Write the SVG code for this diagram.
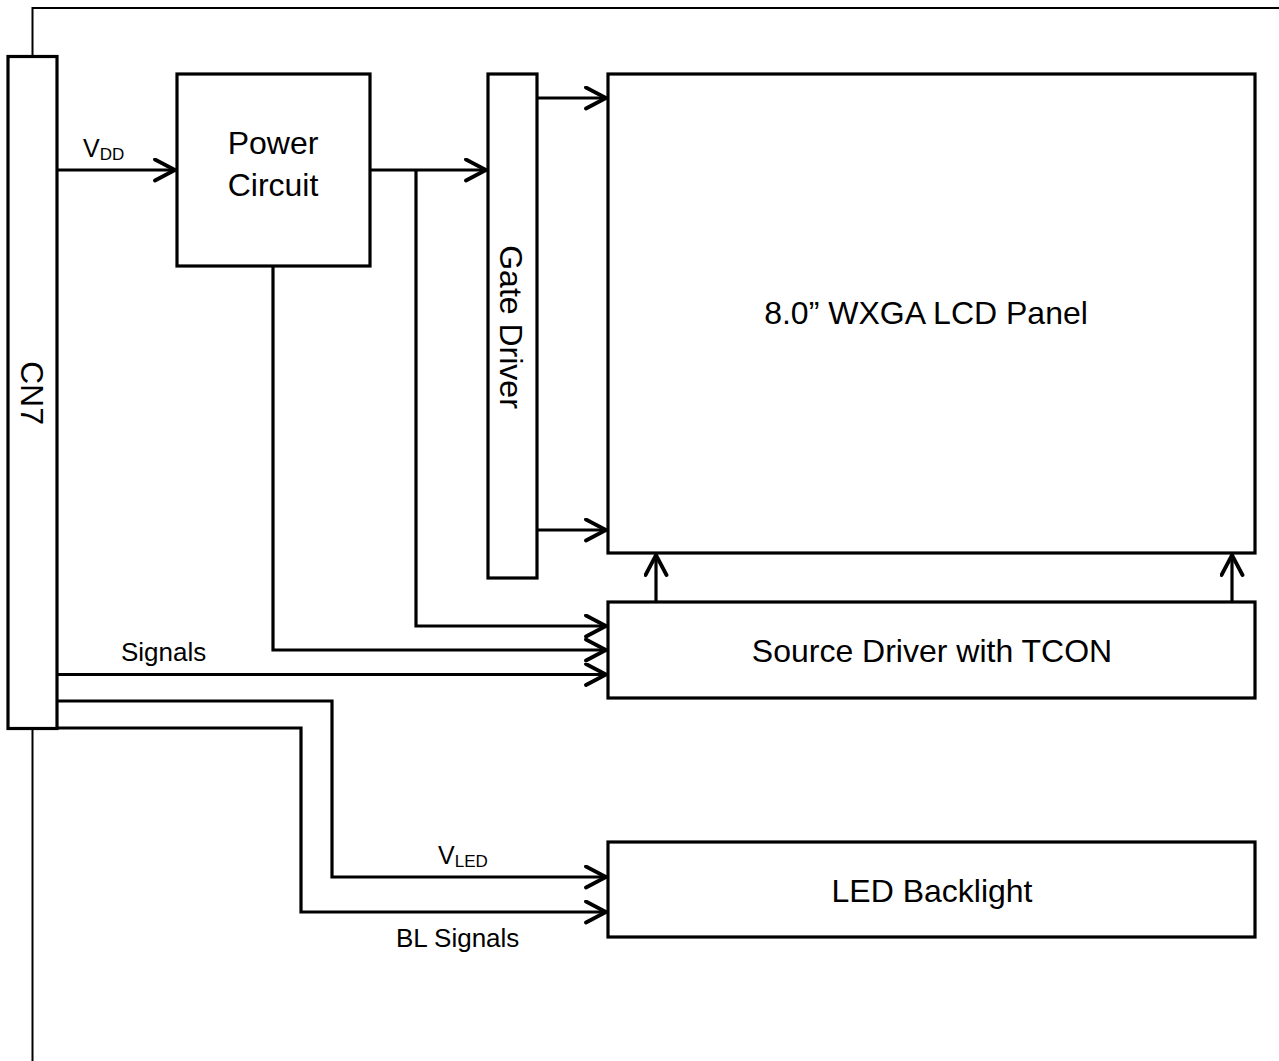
<svg xmlns="http://www.w3.org/2000/svg" width="1279" height="1061" viewBox="0 0 1279 1061">
<style>
.box{fill:#fff;stroke:#000;stroke-width:3.2}
.lbl{font-family:"Liberation Sans",Arial,Helvetica,sans-serif;fill:#000}
.big{font-size:32px;text-anchor:middle}
.sm{font-size:26px}
.sub{font-size:17px}
.wire{fill:none;stroke:#000;stroke-width:3.2;marker-end:url(#arr)}
.frame{fill:none;stroke:#000;stroke-width:2}
</style>
<defs>
<marker id="arr" markerUnits="userSpaceOnUse" markerWidth="30" markerHeight="30" refX="22" refY="12" orient="auto" viewBox="0 0 30 30">
<path d="M2,1.5 L22,12 L2,22.5" fill="none" stroke="#000" stroke-width="3.8" stroke-linecap="round"/>
</marker>
</defs>
<rect width="1279" height="1061" fill="#fff"/>
<g id="frame">
<path class="frame" d="M32.5,57 V8 H1285"/>
<path class="frame" d="M32.5,728 V1065"/>
</g>
<g id="connectors">
<path class="wire" d="M57,170 H175"/>
<path class="wire" d="M370,170 H486"/>
<path class="wire" d="M416,170 V626 H606"/>
<path class="wire" d="M273,266 V650 H606"/>
<path class="wire" d="M57,674.5 H606"/>
<path class="wire" d="M537,98 H606"/>
<path class="wire" d="M537,530 H606"/>
<path class="wire" d="M656,602 V555"/>
<path class="wire" d="M1232,602 V555"/>
<path class="wire" d="M57,701 H332 V877 H606"/>
<path class="wire" d="M57,728 H301 V912 H606"/>
</g>
<g id="cn7">
<rect class="box" x="8" y="56.5" width="49" height="672"/>
<text class="lbl big" transform="translate(32.5,393) rotate(90)" y="11.5">CN7</text>
</g>
<g id="power">
<rect class="box" x="177" y="74" width="193" height="192"/>
<text class="lbl big" x="273" y="154">Power</text>
<text class="lbl big" x="273" y="196">Circuit</text>
</g>
<g id="gate">
<rect class="box" x="488" y="74" width="49" height="504"/>
<text class="lbl big" transform="translate(511,327) rotate(90)" y="11.5">Gate Driver</text>
</g>
<g id="lcd">
<rect class="box" x="608" y="74" width="647" height="479"/>
<text class="lbl big" x="926" y="324">8.0” WXGA LCD Panel</text>
</g>
<g id="source">
<rect class="box" x="608" y="602" width="647" height="96"/>
<text class="lbl big" x="932" y="662">Source Driver with TCON</text>
</g>
<g id="backlight">
<rect class="box" x="608" y="842" width="647" height="95"/>
<text class="lbl big" x="932" y="901.5">LED Backlight</text>
</g>
<g id="labels">
<text class="lbl" x="83" y="157" font-size="25">V<tspan class="sub" dy="3">DD</tspan></text>
<text class="lbl sm" x="121" y="661">Signals</text>
<text class="lbl" x="438" y="864" font-size="25">V<tspan class="sub" dy="3">LED</tspan></text>
<text class="lbl sm" x="396" y="947">BL Signals</text>
</g>
</svg>
